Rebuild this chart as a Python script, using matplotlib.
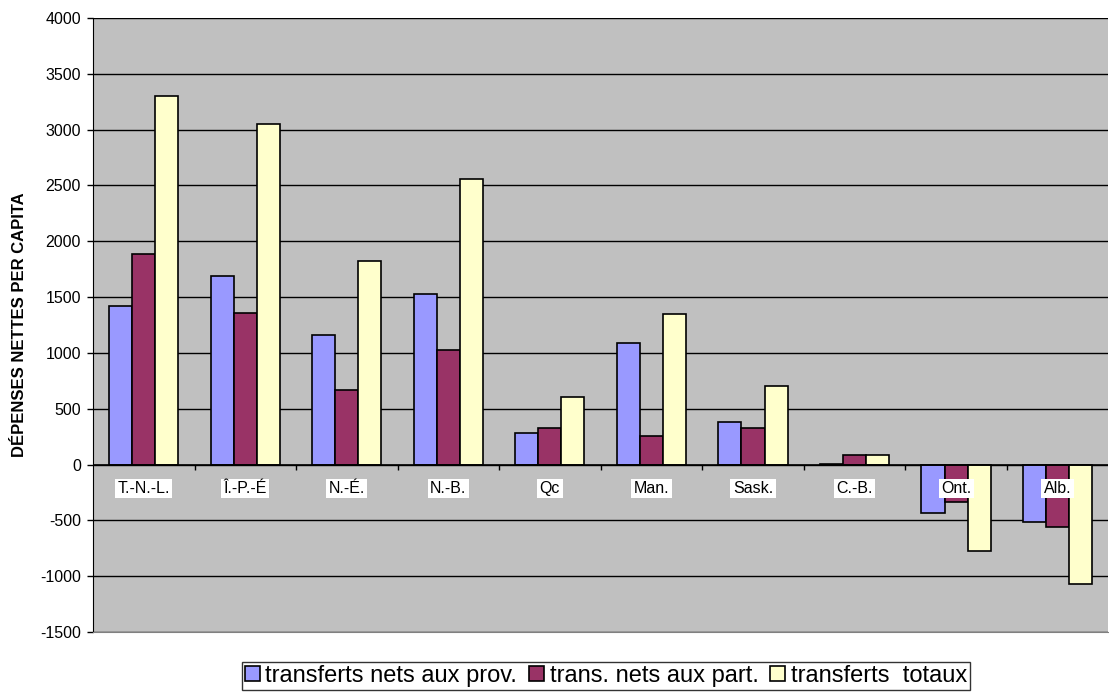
import matplotlib
matplotlib.use("Agg")
import matplotlib.pyplot as plt
import numpy as np

plt.rcParams['font.family'] = ['Liberation Sans', 'DejaVu Sans']

provinces = ["T.-N.-L.", "Î.-P.-É", "N.-É.", "N.-B.", "Qc", "Man.", "Sask.", "C.-B.", "Ont.", "Alb."]
transferts_prov = [1423, 1690, 1160, 1530, 286, 1089, 379, 5, -433, -516]
transferts_part = [1885, 1360, 671, 1029, 331, 259, 325, 86, -334, -561]
transferts_totaux = [3303, 3051, 1825, 2559, 608, 1345, 701, 86, -770, -1074]

series_names = ["transferts nets aux prov.", "trans. nets aux part.", "transferts  totaux"]
series_colors = ["#9999FF", "#993366", "#FFFFCC"]
yticks = list(range(-1500, 4001, 500))

fig = plt.figure(figsize=(11.09, 6.92), dpi=100)
ax = fig.add_axes([0.0839, 0.0867, 0.9155, 0.8873])
ax.set_facecolor("#C0C0C0")

x = np.arange(len(provinces))
w = 0.227
for i, (vals, name, col) in enumerate(zip([transferts_prov, transferts_part, transferts_totaux],
                                          series_names, series_colors)):
    ax.bar(x + (i - 1) * w, vals, width=w, color=col, edgecolor="black",
           linewidth=1.2, label=name, zorder=3)

ax.set_xlim(-0.5, len(provinces) - 0.5)
ax.set_ylim(-1500, 4000)
ax.set_yticks(yticks)
ax.set_yticklabels([str(t) for t in yticks], fontsize=11.5)
ax.yaxis.grid(True, color="black", linewidth=1, zorder=0)
ax.set_axisbelow(True)
ax.tick_params(axis="y", direction="out", length=4.3, width=1, pad=4.5)
ax.set_xticks([])

for side in ["top", "right"]:
    ax.spines[side].set_visible(False)
ax.spines["bottom"].set_color("#808080")
ax.spines["left"].set_color("black")

# category axis along zero
ax.axhline(0, color="black", linewidth=1.2, zorder=4)
bounds = np.arange(len(provinces) + 1) - 0.5
ax.vlines(bounds[1:-1], -45, 0, color="black", linewidth=1, zorder=4)
for xi, name in zip(x, provinces):
    ax.text(xi, -215, name, ha="center", va="center", fontsize=11.5, zorder=6,
            bbox=dict(boxstyle="square,pad=0.15", facecolor="white", edgecolor="none"))

ax.set_ylabel("DÉPENSES NETTES PER CAPITA", fontsize=12, fontweight="bold", labelpad=9)

leg = fig.legend(loc="lower center", bbox_to_anchor=(0.5465, 0.0), ncol=3, fontsize=17,
                 frameon=True, fancybox=False, edgecolor="black", handlelength=0.62,
                 handleheight=0.62, handletextpad=0.25, columnspacing=0.5,
                 borderpad=0.12, borderaxespad=0.1)
leg.get_frame().set_linewidth(1)

fig.savefig("out.png", dpi=100, facecolor="white")
